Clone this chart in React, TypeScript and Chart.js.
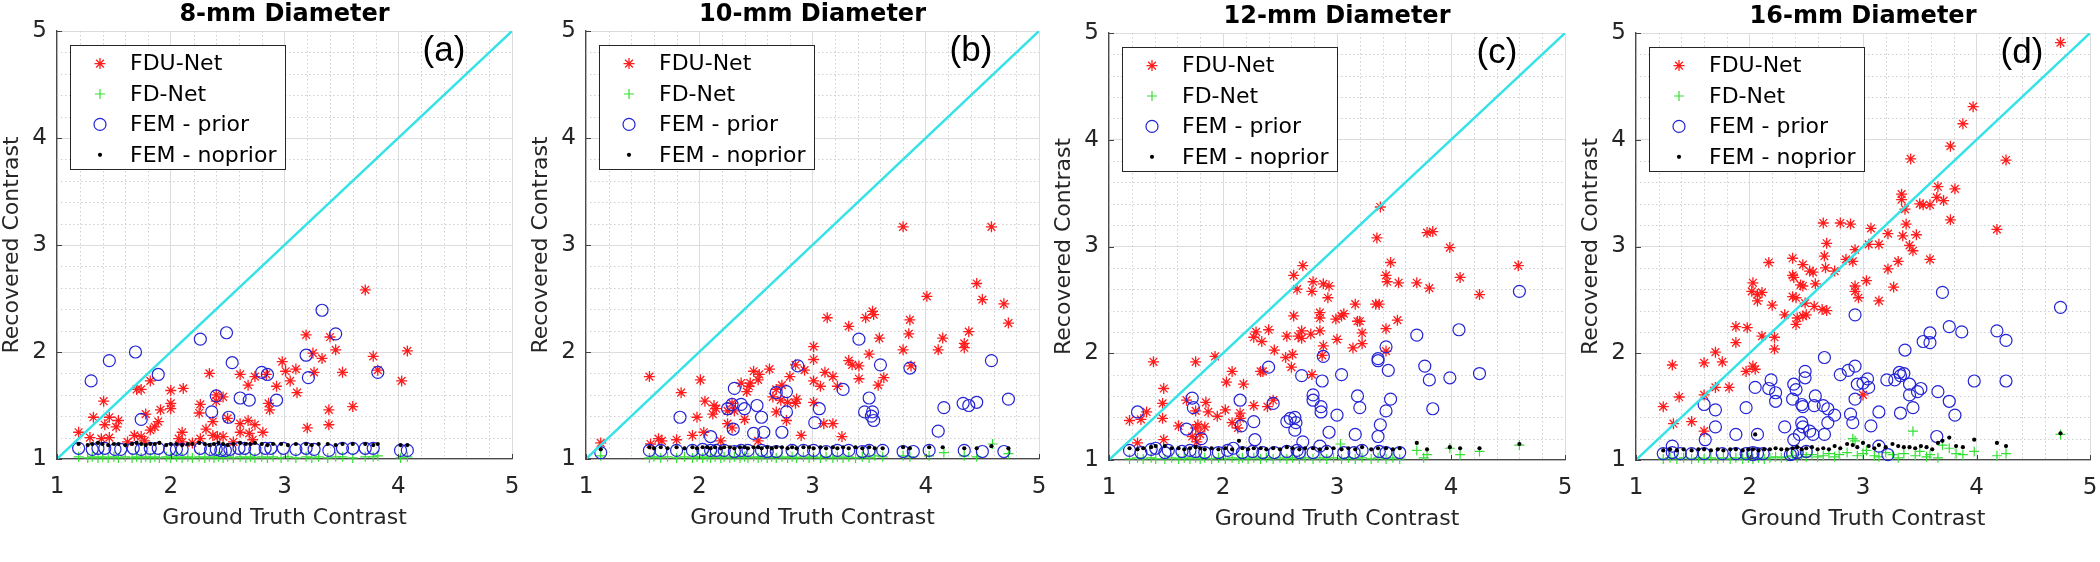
import React, { useEffect, useRef } from 'react';
import { Chart, registerables } from 'chart.js';

Chart.register(...registerables);

type Pt = [number, number];

// ---------- text ----------
const PANEL_TITLES = ['8-mm Diameter', '10-mm Diameter', '12-mm Diameter', '16-mm Diameter'];
const PANEL_TAGS = ['(a)', '(b)', '(c)', '(d)'];
const SERIES_NAMES = ['FDU-Net', 'FD-Net', 'FEM - prior', 'FEM - noprior'];
const X_TITLE = 'Ground Truth Contrast';
const Y_TITLE = 'Recovered Contrast';
const AXIS_MIN = 1;
const AXIS_MAX = 5;
const TICK_VALUES = [1, 2, 3, 4, 5];
const IDENTITY: Pt[] = [[1, 1], [5, 5]];

// ---------- panel (a) 8 mm ----------
const A_FDU: Pt[] = [
  [3.71, 2.58], [3.19, 2.16], [3.40, 2.14], [3.25, 1.99], [3.45, 2.02], [3.33, 1.94], [4.08, 2.01], [3.78, 1.96],
  [2.98, 1.91], [3.01, 1.82], [3.10, 1.84], [3.26, 1.81], [3.51, 1.81], [3.82, 1.83], [2.34, 1.80], [2.61, 1.79],
  [2.84, 1.79], [3.05, 1.73], [4.03, 1.73], [2.68, 1.69], [2.74, 1.77], [2.93, 1.68], [3.11, 1.62], [1.82, 1.73],
  [1.70, 1.65], [1.74, 1.65], [2.00, 1.64], [2.11, 1.66], [1.41, 1.54], [2.00, 1.52], [2.00, 1.47], [1.91, 1.46],
  [2.26, 1.51], [2.40, 1.54], [2.46, 1.58], [2.40, 1.60], [2.86, 1.52], [2.87, 1.46], [3.39, 1.46], [3.60, 1.49],
  [1.32, 1.39], [1.46, 1.39], [1.78, 1.42], [2.25, 1.43], [2.37, 1.35], [1.54, 1.36], [1.42, 1.32], [1.52, 1.30],
  [1.89, 1.35], [1.86, 1.30], [1.82, 1.27], [1.19, 1.25], [2.31, 1.28], [2.10, 1.25], [2.61, 1.33], [2.68, 1.36],
  [2.74, 1.32], [2.61, 1.25], [2.69, 1.24], [2.81, 1.25], [2.50, 1.38], [3.20, 1.29], [3.39, 1.32], [1.29, 1.20],
  [1.39, 1.19], [1.46, 1.20], [1.68, 1.22], [1.74, 1.21], [1.77, 1.17], [1.62, 1.16], [2.10, 1.16], [2.19, 1.15],
  [2.26, 1.19], [2.37, 1.22], [2.41, 1.21], [2.46, 1.21], [2.55, 1.16], [2.07, 1.19], [2.72, 1.18],
];
const A_FD: Pt[] = [
  [1.19, 1.02], [1.27, 1.01], [1.31, 1.02], [1.36, 1.01], [1.40, 1.02], [1.45, 1.01], [1.50, 1.02], [1.54, 1.01],
  [1.60, 1.02], [1.66, 1.01], [1.70, 1.02], [1.74, 1.01], [1.78, 1.02], [1.82, 1.01], [1.86, 1.02], [1.90, 1.01],
  [1.96, 1.02], [2.00, 1.01], [2.05, 1.02], [2.10, 1.01], [2.15, 1.02], [2.19, 1.01], [2.25, 1.02], [2.30, 1.01],
  [2.34, 1.02], [2.38, 1.01], [2.42, 1.02], [2.46, 1.01], [2.50, 1.02], [2.55, 1.01], [2.61, 1.02], [2.66, 1.01],
  [2.70, 1.02], [2.74, 1.01], [2.80, 1.02], [2.85, 1.01], [2.90, 1.02], [2.97, 1.01], [3.03, 1.02], [3.10, 1.01],
  [3.19, 1.02], [3.24, 1.01], [3.30, 1.02], [3.38, 1.01], [3.45, 1.02], [3.51, 1.02], [3.60, 1.01], [3.71, 1.02],
  [3.78, 1.02], [3.82, 1.03], [4.02, 1.01], [4.08, 1.02],
];
const A_PRIOR: Pt[] = [
  [3.33, 2.39], [3.45, 2.17], [2.49, 2.18], [2.26, 2.12], [1.69, 2.00], [1.46, 1.92], [3.19, 1.97], [2.54, 1.90],
  [1.89, 1.79], [2.80, 1.81], [2.85, 1.79], [3.82, 1.81], [1.30, 1.73], [3.21, 1.76], [2.40, 1.59], [2.61, 1.57],
  [2.69, 1.55], [2.93, 1.55], [2.36, 1.44], [2.51, 1.39], [1.74, 1.37],
  [1.19, 1.10], [1.31, 1.09], [1.42, 1.10], [1.51, 1.09], [1.67, 1.10], [1.74, 1.09], [1.82, 1.10], [1.89, 1.10],
  [1.99, 1.09], [2.10, 1.09], [2.26, 1.10], [2.35, 1.09], [2.44, 1.08], [2.52, 1.09], [2.65, 1.10], [2.74, 1.09],
  [2.83, 1.10], [2.99, 1.10], [3.10, 1.09], [3.19, 1.10], [3.26, 1.09], [3.39, 1.08], [3.51, 1.10], [3.60, 1.10],
  [3.71, 1.10], [3.78, 1.10], [4.02, 1.08], [4.08, 1.08], [1.36, 1.10], [1.56, 1.09], [2.05, 1.09], [2.40, 1.09],
  [2.48, 1.08], [2.60, 1.10], [2.88, 1.10],
];
const A_NOPRIOR: Pt[] = [
  [1.19, 1.14], [1.27, 1.13], [1.31, 1.14], [1.36, 1.15], [1.40, 1.14], [1.45, 1.13], [1.50, 1.14], [1.54, 1.14],
  [1.60, 1.13], [1.66, 1.14], [1.70, 1.15], [1.74, 1.14], [1.78, 1.13], [1.82, 1.14], [1.86, 1.14], [1.90, 1.15],
  [1.96, 1.13], [2.00, 1.14], [2.05, 1.14], [2.10, 1.13], [2.15, 1.14], [2.19, 1.14], [2.25, 1.15], [2.30, 1.14],
  [2.34, 1.13], [2.38, 1.14], [2.42, 1.15], [2.46, 1.14], [2.50, 1.13], [2.55, 1.14], [2.61, 1.15], [2.66, 1.14],
  [2.70, 1.14], [2.74, 1.15], [2.80, 1.14], [2.85, 1.13], [2.90, 1.14], [2.97, 1.14], [3.03, 1.13], [3.10, 1.14],
  [3.19, 1.14], [3.24, 1.13], [3.30, 1.14], [3.38, 1.14], [3.45, 1.13], [3.51, 1.14], [3.60, 1.14], [3.71, 1.14],
  [3.78, 1.13], [3.82, 1.14], [4.02, 1.13], [4.08, 1.13],
];

// ---------- panel (b) 10 mm ----------
const B_FDU: Pt[] = [
  [3.80, 3.17], [4.58, 3.17], [4.45, 2.64], [4.01, 2.52], [4.50, 2.49], [4.69, 2.45], [4.73, 2.27], [3.13, 2.32],
  [3.32, 2.24], [3.47, 2.32], [3.53, 2.38], [3.54, 2.35], [3.86, 2.30], [3.85, 2.17], [3.59, 2.13], [4.15, 2.13],
  [4.38, 2.19], [4.34, 2.08], [4.34, 2.04], [4.11, 2.02], [3.80, 2.02], [3.01, 2.05], [3.01, 1.93], [3.50, 1.98],
  [3.32, 1.92], [3.35, 1.88], [3.41, 1.87], [3.87, 1.87], [2.85, 1.88], [2.93, 1.83], [3.11, 1.81], [3.18, 1.77],
  [3.41, 1.75], [3.63, 1.76], [3.58, 1.69], [3.01, 1.73], [3.07, 1.68], [3.22, 1.68], [2.62, 1.84], [2.48, 1.82],
  [2.53, 1.79], [2.52, 1.74], [2.45, 1.71], [2.37, 1.71], [2.44, 1.68], [2.42, 1.63], [2.80, 1.77], [2.73, 1.69],
  [2.68, 1.65], [2.65, 1.58], [2.72, 1.55], [2.78, 1.53], [2.85, 1.52], [2.86, 1.56], [3.01, 1.53], [1.56, 1.77],
  [2.01, 1.74], [1.84, 1.62], [2.05, 1.54], [2.13, 1.50], [2.12, 1.42], [2.15, 1.47], [2.25, 1.45], [2.31, 1.45],
  [2.29, 1.52], [2.40, 1.37], [1.98, 1.39], [2.25, 1.33], [2.29, 1.29], [2.68, 1.44], [2.77, 1.36], [3.10, 1.33],
  [3.18, 1.33], [2.90, 1.22], [3.26, 1.21], [1.94, 1.22], [2.04, 1.25], [1.64, 1.19], [1.67, 1.17], [1.80, 1.18],
  [2.19, 1.17], [2.52, 1.17], [1.57, 1.14], [1.13, 1.15],
];
const B_FD: Pt[] = [
  [1.13, 1.03], [1.56, 1.01], [1.60, 1.02], [1.66, 1.01], [1.72, 1.02], [1.80, 1.01], [1.87, 1.02], [1.94, 1.01],
  [1.98, 1.02], [2.03, 1.01], [2.07, 1.02], [2.10, 1.01], [2.14, 1.02], [2.19, 1.01], [2.22, 1.02], [2.27, 1.01],
  [2.31, 1.02], [2.36, 1.01], [2.40, 1.02], [2.43, 1.01], [2.48, 1.02], [2.52, 1.01], [2.55, 1.02], [2.60, 1.01],
  [2.64, 1.02], [2.68, 1.01], [2.73, 1.02], [2.78, 1.01], [2.82, 1.02], [2.86, 1.01], [2.92, 1.02], [2.97, 1.01],
  [3.01, 1.02], [3.07, 1.01], [3.12, 1.02], [3.18, 1.01], [3.22, 1.02], [3.27, 1.01], [3.32, 1.02], [3.38, 1.01],
  [3.44, 1.02], [3.50, 1.01], [3.55, 1.03], [3.62, 1.02], [3.80, 1.03], [3.86, 1.02], [4.03, 1.03], [4.16, 1.06],
  [4.34, 1.03], [4.45, 1.02], [4.59, 1.14], [4.73, 1.05],
];
const B_PRIOR: Pt[] = [
  [3.41, 2.12], [4.58, 1.92], [3.60, 1.88], [2.87, 1.87], [3.86, 1.85], [4.73, 1.56], [3.50, 1.57], [3.27, 1.65],
  [2.31, 1.66], [2.68, 1.62], [2.77, 1.63], [4.16, 1.48], [4.33, 1.52], [4.38, 1.50], [4.45, 1.53], [4.11, 1.26],
  [3.06, 1.47], [3.46, 1.44], [3.53, 1.44], [3.52, 1.40], [3.54, 1.36], [3.02, 1.34], [1.83, 1.39], [2.29, 1.51],
  [2.25, 1.47], [2.37, 1.51], [2.40, 1.47], [2.51, 1.50], [2.55, 1.39], [2.77, 1.44], [2.30, 1.28], [2.48, 1.24],
  [2.57, 1.25], [2.73, 1.25], [2.10, 1.21], [1.13, 1.06],
  [1.56, 1.08], [1.66, 1.08], [1.80, 1.08], [1.94, 1.08], [2.03, 1.09], [2.10, 1.08], [2.22, 1.08], [2.31, 1.07],
  [2.43, 1.08], [2.55, 1.08], [2.68, 1.07], [2.82, 1.08], [3.01, 1.08], [3.12, 1.07], [3.22, 1.08], [3.32, 1.08],
  [3.44, 1.07], [3.62, 1.08], [3.80, 1.07], [3.89, 1.07], [4.03, 1.08], [4.34, 1.08], [4.50, 1.07], [4.69, 1.07],
  [2.15, 1.08], [2.37, 1.08], [2.60, 1.07], [2.92, 1.08], [3.50, 1.08],
];
const B_NOPRIOR: Pt[] = [
  [1.13, 1.09], [1.56, 1.11], [1.60, 1.10], [1.66, 1.11], [1.72, 1.10], [1.80, 1.11], [1.87, 1.10], [1.94, 1.11],
  [1.98, 1.10], [2.03, 1.11], [2.07, 1.11], [2.10, 1.10], [2.14, 1.11], [2.19, 1.10], [2.22, 1.11], [2.27, 1.11],
  [2.31, 1.10], [2.36, 1.11], [2.40, 1.11], [2.43, 1.10], [2.48, 1.11], [2.52, 1.11], [2.55, 1.10], [2.60, 1.11],
  [2.64, 1.10], [2.68, 1.11], [2.73, 1.11], [2.78, 1.10], [2.82, 1.11], [2.86, 1.10], [2.92, 1.11], [2.97, 1.11],
  [3.01, 1.10], [3.07, 1.11], [3.12, 1.10], [3.18, 1.11], [3.22, 1.10], [3.27, 1.11], [3.32, 1.10], [3.38, 1.11],
  [3.44, 1.10], [3.50, 1.11], [3.55, 1.10], [3.62, 1.10], [3.80, 1.11], [3.86, 1.10], [4.03, 1.11], [4.15, 1.11],
  [4.34, 1.10], [4.45, 1.10], [4.58, 1.12], [4.73, 1.10],
];

// ---------- panel (c) 12 mm ----------
const C_FDU: Pt[] = [
  [3.38, 3.37], [3.79, 3.13], [3.84, 3.14], [3.35, 3.08], [3.99, 2.99], [4.59, 2.82], [2.70, 2.82], [3.47, 2.85],
  [2.62, 2.73], [3.43, 2.73], [4.08, 2.71], [3.44, 2.67], [3.54, 2.66], [3.70, 2.66], [2.79, 2.67], [2.88, 2.65],
  [2.93, 2.63], [2.65, 2.60], [2.78, 2.58], [3.81, 2.61], [4.25, 2.55], [2.92, 2.52], [3.16, 2.46], [3.34, 2.46],
  [3.37, 2.46], [2.62, 2.35], [2.85, 2.38], [2.85, 2.33], [2.99, 2.32], [3.04, 2.35], [3.06, 2.37], [3.18, 2.30],
  [3.20, 2.30], [3.53, 2.31], [3.43, 2.23], [3.22, 2.19], [2.40, 2.22], [2.29, 2.20], [2.27, 2.15], [2.34, 2.11],
  [2.56, 2.16], [2.66, 2.16], [2.69, 2.21], [2.77, 2.18], [2.85, 2.21], [2.69, 2.14], [3.00, 2.13], [2.45, 2.03],
  [2.61, 1.99], [2.88, 2.07], [3.14, 2.05], [3.22, 2.09], [2.55, 1.96], [2.60, 1.87], [2.87, 1.98], [1.93, 1.97],
  [1.39, 1.92], [1.76, 1.92], [2.08, 1.83], [2.33, 1.83], [2.35, 1.83], [2.03, 1.73], [2.18, 1.71], [2.78, 1.80],
  [3.43, 2.02], [1.48, 1.67], [1.68, 1.56], [1.47, 1.53], [1.85, 1.54], [2.27, 1.51], [2.39, 1.50], [2.44, 1.56],
  [1.33, 1.45], [1.87, 1.45], [2.02, 1.47], [1.76, 1.46], [1.47, 1.39], [1.95, 1.41], [2.15, 1.44], [2.15, 1.39],
  [1.18, 1.37], [1.28, 1.38], [1.61, 1.32], [1.76, 1.30], [1.78, 1.33], [1.84, 1.31], [1.73, 1.22], [1.80, 1.24],
  [2.08, 1.35], [2.13, 1.30], [1.25, 1.16], [1.48, 1.19], [1.77, 1.17],
];
const C_FD: Pt[] = [
  [1.18, 1.01], [1.25, 1.02], [1.30, 1.01], [1.37, 1.02], [1.41, 1.01], [1.49, 1.01], [1.55, 1.02], [1.61, 1.01],
  [1.66, 1.02], [1.71, 1.01], [1.76, 1.02], [1.80, 1.01], [1.84, 1.02], [1.90, 1.01], [1.96, 1.02], [2.02, 1.01],
  [2.08, 1.02], [2.14, 1.01], [2.17, 1.02], [2.22, 1.01], [2.27, 1.02], [2.33, 1.01], [2.38, 1.02], [2.44, 1.01],
  [2.50, 1.02], [2.56, 1.01], [2.61, 1.02], [2.67, 1.01], [2.72, 1.02], [2.79, 1.01], [2.85, 1.02], [2.91, 1.01],
  [2.97, 1.02], [3.03, 1.15], [3.04, 1.01], [3.10, 1.02], [3.16, 1.01], [3.22, 1.02], [3.30, 1.01], [3.36, 1.02],
  [3.43, 1.01], [3.49, 1.02], [3.55, 1.01], [3.70, 1.09], [3.76, 1.02], [3.79, 1.05], [3.99, 1.11], [4.08, 1.05],
  [4.25, 1.08], [4.60, 1.14],
];
const C_PRIOR: Pt[] = [
  [4.60, 2.58], [4.07, 2.22], [3.70, 2.17], [3.43, 2.06], [2.88, 1.97], [3.36, 1.93], [3.36, 1.95], [3.77, 1.88],
  [4.25, 1.81], [2.40, 1.87], [3.45, 1.84], [3.04, 1.80], [2.69, 1.79], [3.81, 1.75], [3.99, 1.77], [2.87, 1.74],
  [1.73, 1.58], [2.15, 1.56], [2.79, 1.61], [2.79, 1.56], [3.18, 1.60], [3.47, 1.57], [2.44, 1.53], [1.74, 1.49],
  [2.86, 1.50], [3.20, 1.49], [3.84, 1.48], [1.25, 1.45], [2.86, 1.45], [3.43, 1.46], [3.00, 1.42], [2.59, 1.39],
  [2.63, 1.40], [2.64, 1.35], [2.56, 1.36], [2.27, 1.36], [2.16, 1.32], [2.63, 1.28], [3.38, 1.33], [1.68, 1.29],
  [2.93, 1.26], [3.16, 1.24], [3.36, 1.22], [2.28, 1.19], [2.70, 1.17], [1.81, 1.20], [2.85, 1.13],
  [1.18, 1.09], [1.28, 1.07], [1.37, 1.10], [1.49, 1.07], [1.64, 1.08], [1.76, 1.08], [1.84, 1.07], [1.96, 1.07],
  [2.04, 1.09], [2.17, 1.07], [2.26, 1.08], [2.35, 1.07], [2.45, 1.07], [2.56, 1.08], [2.67, 1.07], [2.79, 1.07],
  [2.91, 1.08], [3.06, 1.07], [3.15, 1.07], [3.22, 1.09], [3.43, 1.07], [3.55, 1.07], [1.41, 1.11], [1.52, 1.09],
  [1.71, 1.09], [2.09, 1.11], [2.65, 1.09], [3.37, 1.08],
];
const C_NOPRIOR: Pt[] = [
  [1.18, 1.11], [1.25, 1.10], [1.30, 1.11], [1.37, 1.12], [1.41, 1.13], [1.49, 1.13], [1.55, 1.11], [1.61, 1.11],
  [1.66, 1.10], [1.71, 1.11], [1.76, 1.12], [1.80, 1.11], [1.84, 1.10], [1.90, 1.11], [1.96, 1.10], [2.02, 1.11],
  [2.08, 1.10], [2.14, 1.18], [2.17, 1.11], [2.22, 1.10], [2.27, 1.11], [2.33, 1.11], [2.38, 1.10], [2.44, 1.11],
  [2.50, 1.10], [2.56, 1.12], [2.61, 1.11], [2.67, 1.10], [2.72, 1.11], [2.79, 1.11], [2.85, 1.10], [2.91, 1.11],
  [2.97, 1.11], [3.04, 1.10], [3.10, 1.11], [3.16, 1.10], [3.22, 1.12], [3.30, 1.10], [3.36, 1.11], [3.43, 1.11],
  [3.49, 1.10], [3.55, 1.11], [3.70, 1.16], [3.79, 1.10], [3.99, 1.12], [4.08, 1.11], [4.25, 1.11], [4.60, 1.15],
];

// ---------- panel (d) 16 mm ----------
const D_FDU: Pt[] = [
  [4.74, 4.91], [3.97, 4.31], [3.88, 4.15], [3.77, 3.94], [3.42, 3.82], [4.26, 3.81], [3.66, 3.56], [3.81, 3.54],
  [3.65, 3.46], [3.71, 3.43], [3.34, 3.49], [3.34, 3.44], [3.50, 3.40], [3.53, 3.39], [3.59, 3.39], [3.37, 3.35],
  [3.77, 3.25], [2.65, 3.22], [2.80, 3.22], [2.89, 3.21], [3.07, 3.17], [3.38, 3.21], [3.22, 3.12], [3.35, 3.10],
  [3.47, 3.11], [4.18, 3.16], [2.68, 3.03], [3.05, 3.02], [3.14, 3.02], [3.41, 3.01], [3.44, 2.96], [2.93, 2.97],
  [2.66, 2.91], [2.38, 2.89], [2.17, 2.85], [2.47, 2.83], [2.85, 2.88], [2.91, 2.86], [3.31, 2.86], [3.59, 2.88],
  [2.67, 2.80], [2.75, 2.77], [3.22, 2.79], [2.38, 2.73], [2.39, 2.71], [2.53, 2.77], [2.56, 2.76], [2.45, 2.64],
  [2.47, 2.63], [2.58, 2.65], [3.03, 2.68], [2.03, 2.66], [2.93, 2.63], [2.93, 2.58], [2.02, 2.58], [2.07, 2.55],
  [2.11, 2.57], [2.07, 2.49], [3.27, 2.62], [2.96, 2.52], [2.38, 2.53], [2.41, 2.52], [2.20, 2.45], [2.49, 2.47],
  [3.14, 2.49], [2.57, 2.44], [2.64, 2.41], [2.68, 2.40], [2.31, 2.36], [2.42, 2.33], [2.47, 2.35], [2.50, 2.36],
  [2.41, 2.27], [1.88, 2.25], [1.98, 2.24], [1.88, 2.10], [2.11, 2.16], [2.22, 2.15], [2.22, 2.04], [1.70, 2.01],
  [1.76, 1.92], [1.32, 1.89], [1.60, 1.91], [2.03, 1.88], [1.97, 1.83], [2.05, 1.85], [1.70, 1.68], [1.82, 1.68],
  [1.38, 1.59], [1.60, 1.61], [3.00, 1.61], [1.24, 1.50], [1.49, 1.36], [1.33, 1.34], [1.60, 1.27],
];
const D_FD: Pt[] = [
  [1.24, 1.01], [1.30, 1.02], [1.36, 1.01], [1.42, 1.02], [1.49, 1.01], [1.55, 1.02], [1.60, 1.01], [1.66, 1.02],
  [1.72, 1.01], [1.77, 1.02], [1.83, 1.01], [1.88, 1.02], [1.94, 1.01], [1.99, 1.02], [2.03, 1.01], [2.08, 1.02],
  [2.13, 1.01], [2.18, 1.02], [2.23, 1.03], [2.28, 1.02], [2.33, 1.03], [2.38, 1.04], [2.42, 1.02], [2.46, 1.05],
  [2.50, 1.03], [2.55, 1.05], [2.60, 1.03], [2.65, 1.04], [2.70, 1.06], [2.75, 1.03], [2.79, 1.05], [2.86, 1.07],
  [2.91, 1.20], [2.93, 1.18], [2.95, 1.04], [3.00, 1.06], [3.03, 1.09], [3.10, 1.04], [3.14, 1.03], [3.20, 1.07],
  [3.26, 1.05], [3.31, 1.02], [3.36, 1.06], [3.44, 1.27], [3.46, 1.04], [3.50, 1.08], [3.56, 1.03], [3.59, 1.05],
  [3.66, 1.02], [3.70, 1.14], [3.76, 1.11], [3.82, 1.06], [3.88, 1.05], [3.98, 1.08], [4.18, 1.04], [4.26, 1.06],
  [4.74, 1.24],
];
const D_PRIOR: Pt[] = [
  [4.74, 2.43], [3.70, 2.57], [2.93, 2.36], [3.76, 2.25], [3.59, 2.19], [3.87, 2.20], [4.18, 2.21], [4.26, 2.12],
  [3.53, 2.11], [3.59, 2.10], [3.37, 2.03], [2.66, 1.96], [2.93, 1.88], [2.87, 1.84], [2.80, 1.80], [2.49, 1.83],
  [2.49, 1.77], [3.32, 1.82], [3.36, 1.81], [3.33, 1.79], [3.21, 1.75], [3.28, 1.75], [3.04, 1.76], [2.95, 1.71],
  [3.00, 1.72], [3.05, 1.68], [3.41, 1.71], [3.98, 1.74], [4.26, 1.74], [2.19, 1.75], [2.05, 1.68], [2.17, 1.67],
  [2.23, 1.63], [2.39, 1.71], [2.41, 1.66], [2.38, 1.57], [2.23, 1.55], [2.58, 1.60], [3.41, 1.61], [3.48, 1.64],
  [3.51, 1.67], [3.66, 1.64], [3.76, 1.55], [2.93, 1.57], [2.46, 1.52], [2.47, 1.50], [2.57, 1.51], [2.65, 1.51],
  [2.69, 1.48], [1.60, 1.52], [1.70, 1.47], [1.97, 1.49], [3.44, 1.49], [3.14, 1.45], [3.33, 1.44], [2.89, 1.43],
  [2.75, 1.42], [3.81, 1.42], [2.46, 1.35], [2.69, 1.35], [2.91, 1.35], [1.70, 1.31], [2.31, 1.31], [3.07, 1.32],
  [2.47, 1.31], [2.53, 1.27], [2.56, 1.24], [2.66, 1.24], [2.44, 1.24], [1.88, 1.24], [2.07, 1.24], [1.61, 1.19],
  [2.39, 1.19], [3.65, 1.22], [1.32, 1.13], [3.14, 1.13],
  [1.24, 1.06], [1.32, 1.07], [1.39, 1.06], [1.49, 1.06], [1.60, 1.06], [1.76, 1.06], [1.88, 1.06], [1.97, 1.06],
  [2.03, 1.07], [2.07, 1.06], [2.12, 1.06], [2.38, 1.06], [2.42, 1.07], [2.50, 1.08], [3.22, 1.05], [2.36, 1.05],
  [2.03, 1.05],
];
const D_NOPRIOR: Pt[] = [
  [1.24, 1.09], [1.30, 1.10], [1.36, 1.09], [1.42, 1.10], [1.49, 1.09], [1.55, 1.10], [1.60, 1.10], [1.66, 1.09],
  [1.72, 1.10], [1.77, 1.09], [1.83, 1.10], [1.88, 1.10], [1.94, 1.09], [1.99, 1.10], [2.03, 1.10], [2.05, 1.24],
  [2.08, 1.09], [2.13, 1.10], [2.18, 1.10], [2.23, 1.11], [2.28, 1.10], [2.33, 1.10], [2.38, 1.11], [2.42, 1.12],
  [2.46, 1.10], [2.50, 1.11], [2.55, 1.12], [2.60, 1.10], [2.65, 1.11], [2.70, 1.10], [2.75, 1.13], [2.80, 1.11],
  [2.86, 1.15], [2.91, 1.14], [2.95, 1.12], [3.00, 1.16], [3.05, 1.13], [3.10, 1.11], [3.14, 1.14], [3.20, 1.12],
  [3.26, 1.15], [3.31, 1.13], [3.36, 1.12], [3.41, 1.12], [3.46, 1.11], [3.51, 1.13], [3.56, 1.12], [3.61, 1.10],
  [3.66, 1.16], [3.70, 1.18], [3.76, 1.21], [3.82, 1.13], [3.88, 1.12], [3.98, 1.19], [4.18, 1.16], [4.26, 1.13],
  [4.74, 1.25],
];

// ---------- styles ----------
const FONT = '"DejaVu Sans", "Noto Sans", sans-serif';
const TAG_FONT = '"Liberation Sans", Arial, sans-serif';
const RED = '#ff1c1c';
const GREEN = '#33e033';
const BLUE = '#2424d6';
const BLACK = '#000000';
const CYAN = '#35e2e6';
const CANVAS_W = 525;
const CANVAS_H = 562;

const FRAMES = [
  { left: 0, yAxisW: 57, padRight: 13, top: 31, bottom: 459 },
  { left: 525, yAxisW: 61, padRight: 11, top: 31, bottom: 459 },
  { left: 1050, yAxisW: 59, padRight: 10, top: 33, bottom: 460 },
  { left: 1575, yAxisW: 61, padRight: 10, top: 33, bottom: 460 },
];

const PANEL_DATA = [
  { fdu: A_FDU, fd: A_FD, prior: A_PRIOR, noprior: A_NOPRIOR },
  { fdu: B_FDU, fd: B_FD, prior: B_PRIOR, noprior: B_NOPRIOR },
  { fdu: C_FDU, fd: C_FD, prior: C_PRIOR, noprior: C_NOPRIOR },
  { fdu: D_FDU, fd: D_FD, prior: D_PRIOR, noprior: D_NOPRIOR },
];

const LEGEND_GLYPHS = [
  { kind: 'star', r: 5.5, color: RED, lw: 1.3 },
  { kind: 'cross', r: 5, color: GREEN, lw: 1.2 },
  { kind: 'circle', r: 6, color: BLUE, lw: 1.2 },
  { kind: 'dot', r: 2.1, color: BLACK, lw: 0 },
];

function drawGlyph(ctx: CanvasRenderingContext2D, kind: string, x: number, y: number, r: number, color: string, lw: number) {
  ctx.save();
  ctx.strokeStyle = color;
  ctx.fillStyle = color;
  ctx.lineWidth = lw;
  ctx.beginPath();
  if (kind === 'star' || kind === 'cross') {
    ctx.moveTo(x - r, y); ctx.lineTo(x + r, y);
    ctx.moveTo(x, y - r); ctx.lineTo(x, y + r);
    if (kind === 'star') {
      const d = r * Math.SQRT1_2;
      ctx.moveTo(x - d, y - d); ctx.lineTo(x + d, y + d);
      ctx.moveTo(x - d, y + d); ctx.lineTo(x + d, y - d);
    }
    ctx.stroke();
  } else if (kind === 'circle') {
    ctx.arc(x, y, r, 0, Math.PI * 2);
    ctx.stroke();
  } else {
    ctx.arc(x, y, r, 0, Math.PI * 2);
    ctx.fill();
  }
  ctx.restore();
}

const decorPlugin = {
  id: 'decor',
  beforeDatasetsDraw(chart: any) {
    const { ctx, chartArea: a, scales } = chart;
    const xs = scales.x;
    const ys = scales.y;
    ctx.save();
    ctx.strokeStyle = '#cfcfcf';
    ctx.lineWidth = 1;
    ctx.setLineDash([1.5, 2.5]);
    for (let i = 1; i < 20; i++) {
      if (i % 5 === 0) continue;
      const v = AXIS_MIN + i * 0.2;
      const px = Math.round(xs.getPixelForValue(v)) + 0.5;
      const py = Math.round(ys.getPixelForValue(v)) + 0.5;
      ctx.beginPath();
      ctx.moveTo(px, a.top); ctx.lineTo(px, a.bottom);
      ctx.moveTo(a.left, py); ctx.lineTo(a.right, py);
      ctx.stroke();
    }
    ctx.restore();
  },
  afterDraw(chart: any, _args: any, opts: any) {
    const { ctx, chartArea: a, scales } = chart;
    const xs = scales.x;
    const ys = scales.y;
    ctx.save();
    // inward tick marks
    ctx.strokeStyle = '#404040';
    ctx.lineWidth = 1;
    ctx.beginPath();
    for (const v of TICK_VALUES) {
      const px = Math.round(xs.getPixelForValue(v)) + 0.5;
      const py = Math.round(ys.getPixelForValue(v)) + 0.5;
      ctx.moveTo(px, a.bottom); ctx.lineTo(px, a.bottom - 5);
      ctx.moveTo(a.left, py); ctx.lineTo(a.left + 5, py);
    }
    ctx.stroke();

    // legend box
    const bx = a.left + 13;
    const by = a.top + 14;
    const bw = 215;
    const bh = 124;
    ctx.fillStyle = '#ffffff';
    ctx.fillRect(bx, by, bw, bh);
    ctx.strokeStyle = '#262626';
    ctx.lineWidth = 1;
    ctx.strokeRect(Math.round(bx) + 0.5, Math.round(by) + 0.5, bw, bh);
    ctx.font = `22px ${FONT}`;
    ctx.textAlign = 'left';
    ctx.textBaseline = 'middle';
    SERIES_NAMES.forEach((name, i) => {
      const cy = by + 18.6 + i * 30.4;
      const g = LEGEND_GLYPHS[i];
      drawGlyph(ctx, g.kind, bx + 30, cy, g.r, g.color, g.lw);
      ctx.fillStyle = '#000000';
      ctx.fillText(name, bx + 60, cy + 1);
    });

    // panel title
    const cx = (a.left + a.right) / 2;
    ctx.textAlign = 'center';
    ctx.textBaseline = 'alphabetic';
    ctx.font = `bold 24px ${FONT}`;
    ctx.fillStyle = '#000000';
    ctx.fillText(opts.title, cx, a.top - 10);

    // panel tag
    ctx.font = `35px ${TAG_FONT}`;
    ctx.fillText(opts.tag, a.right - 68, a.top + 30);

    // axis titles
    ctx.font = `22px ${FONT}`;
    ctx.fillStyle = '#262626';
    ctx.fillText(X_TITLE, cx, a.bottom + 65);
    ctx.save();
    ctx.translate(a.left - 39, (a.top + a.bottom) / 2);
    ctx.rotate(-Math.PI / 2);
    ctx.fillText(Y_TITLE, 0, 0);
    ctx.restore();
    ctx.restore();
  },
};

function Panel({ idx }: { idx: number }) {
  const ref = useRef<HTMLCanvasElement>(null);
  const frame = FRAMES[idx];
  useEffect(() => {
    const d = PANEL_DATA[idx];
    const toXY = (arr: Pt[]) => arr.map(([x, y]) => ({ x, y }));
    const tickFont = { family: FONT, size: 23 };
    const chart = new Chart(ref.current as HTMLCanvasElement, {
      type: 'scatter',
      data: {
        datasets: [
          { label: 'identity', data: toXY(IDENTITY), showLine: true, borderColor: CYAN, borderWidth: 2.4, pointRadius: 0, order: 0 } as any,
          { label: SERIES_NAMES[3], data: toXY(d.noprior), pointStyle: 'circle', pointRadius: 2.1, backgroundColor: BLACK, borderColor: BLACK, borderWidth: 0, order: 1, clip: false },
          { label: SERIES_NAMES[2], data: toXY(d.prior), pointStyle: 'circle', pointRadius: 6, backgroundColor: 'rgba(0,0,0,0)', borderColor: BLUE, borderWidth: 1.2, order: 2, clip: false },
          { label: SERIES_NAMES[1], data: toXY(d.fd), pointStyle: 'cross', pointRadius: 5, backgroundColor: GREEN, borderColor: GREEN, borderWidth: 1.2, order: 3, clip: false },
          { label: SERIES_NAMES[0], data: toXY(d.fdu), pointStyle: 'star', pointRadius: 5.5, backgroundColor: RED, borderColor: RED, borderWidth: 1.3, order: 4, clip: false },
        ],
      },
      options: {
        animation: false,
        responsive: false,
        maintainAspectRatio: false,
        devicePixelRatio: 1,
        events: [],
        layout: { padding: { left: 0, right: frame.padRight, top: frame.top, bottom: 0 } },
        plugins: {
          legend: { display: false },
          tooltip: { enabled: false },
          title: { display: false },
          decor: { title: PANEL_TITLES[idx], tag: PANEL_TAGS[idx] },
        } as any,
        scales: {
          x: {
            type: 'linear',
            min: AXIS_MIN,
            max: AXIS_MAX,
            afterBuildTicks: (s: any) => { s.ticks = TICK_VALUES.map((v) => ({ value: v })); },
            afterFit: (s: any) => {
              s.height = CANVAS_H - frame.bottom;
              s.paddingLeft = 0; s.paddingRight = 0; s.paddingTop = 0; s.paddingBottom = 0;
            },
            ticks: { font: tickFont, color: '#262626', padding: 14, maxRotation: 0, autoSkip: false, callback: (v: any) => String(v) },
            grid: { color: '#dcdcdc', lineWidth: 1, drawTicks: false },
            border: { display: true, color: '#4a4a4a', width: 1.3 },
          },
          y: {
            type: 'linear',
            min: AXIS_MIN,
            max: AXIS_MAX,
            afterBuildTicks: (s: any) => { s.ticks = TICK_VALUES.map((v) => ({ value: v })); },
            afterFit: (s: any) => {
              s.width = frame.yAxisW;
              s.paddingLeft = 0; s.paddingRight = 0; s.paddingTop = 0; s.paddingBottom = 0;
            },
            ticks: { font: tickFont, color: '#262626', padding: 10, autoSkip: false, callback: (v: any) => String(v) },
            grid: { color: '#dcdcdc', lineWidth: 1, drawTicks: false },
            border: { display: true, color: '#4a4a4a', width: 1.3 },
          },
        },
      } as any,
      plugins: [decorPlugin as any],
    });
    return () => chart.destroy();
  }, [idx]);
  return (
    <canvas
      ref={ref}
      width={CANVAS_W}
      height={CANVAS_H}
      style={{ position: 'absolute', left: frame.left, top: 0, width: CANVAS_W, height: CANVAS_H }}
    />
  );
}

export default function App() {
  useEffect(() => {
    document.body.style.margin = '0';
  }, []);
  return (
    <div style={{ position: 'absolute', left: 0, top: 0, width: 2100, height: 562, background: '#ffffff', overflow: 'hidden' }}>
      {[0, 1, 2, 3].map((i) => (
        <Panel key={i} idx={i} />
      ))}
    </div>
  );
}
